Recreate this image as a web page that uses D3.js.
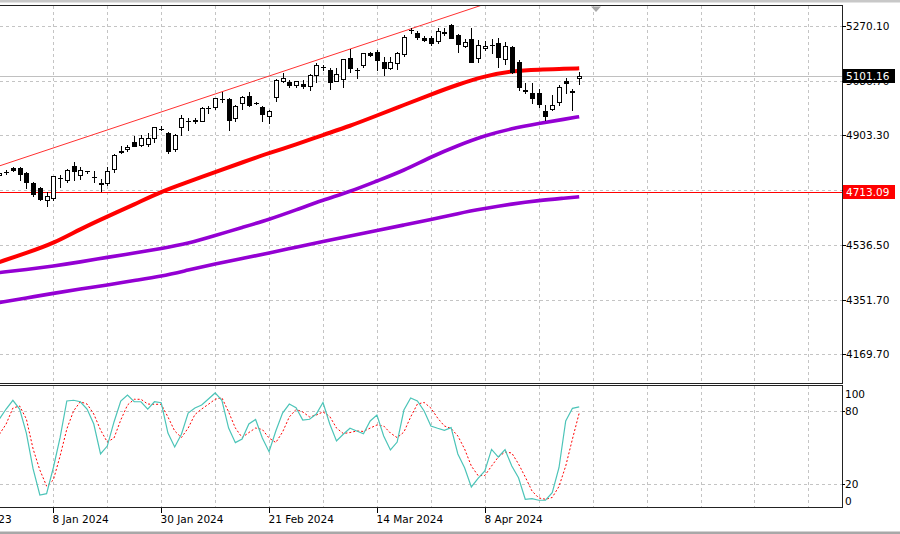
<!DOCTYPE html>
<html><head><meta charset="utf-8">
<script src="https://cdn.jsdelivr.net/npm/d3@7"></script>
<style>html,body{margin:0;padding:0;background:#fff;}svg{display:block;}</style>
</head><body>
<svg id="chart" width="900" height="534"></svg>
<script>
// ---------- DATA ----------
const dates = ["2023-12-27","2023-12-28","2023-12-29","2024-01-01","2024-01-02","2024-01-03","2024-01-04","2024-01-05",
"2024-01-08","2024-01-09","2024-01-10","2024-01-11","2024-01-12","2024-01-15","2024-01-16","2024-01-17","2024-01-18","2024-01-19",
"2024-01-22","2024-01-23","2024-01-24","2024-01-25","2024-01-26","2024-01-29","2024-01-30","2024-01-31","2024-02-01","2024-02-02",
"2024-02-05","2024-02-06","2024-02-07","2024-02-08","2024-02-09","2024-02-12","2024-02-13","2024-02-14","2024-02-15","2024-02-16",
"2024-02-19","2024-02-20","2024-02-21","2024-02-22","2024-02-23","2024-02-26","2024-02-27","2024-02-28","2024-02-29","2024-03-01",
"2024-03-04","2024-03-05","2024-03-06","2024-03-07","2024-03-08","2024-03-11","2024-03-12","2024-03-13","2024-03-14","2024-03-15",
"2024-03-18","2024-03-19","2024-03-20","2024-03-21","2024-03-22","2024-03-25","2024-03-26","2024-03-27","2024-03-28",
"2024-04-01","2024-04-02","2024-04-03","2024-04-04","2024-04-05","2024-04-08","2024-04-09","2024-04-10","2024-04-11","2024-04-12",
"2024-04-15","2024-04-16","2024-04-17","2024-04-18","2024-04-19","2024-04-22","2024-04-23","2024-04-24","2024-04-25","2024-04-26"];

const open = [4770,4779,4795,4795,4778,4744,4726,4686,
4692,4759,4753,4800,4770,4782,4765,4743,4744,4789,
4852,4856,4882,4871,4873,4893,4924,4912,4856,4932,
4952,4952,4952,4994,4999,5024,5024,4960,5013,5035,
5013,4997,4969,5031,5086,5083,5073,5076,5069,5106,
5133,5122,5087,5091,5162,5123,5139,5181,5184,5150,
5128,5145,5175,5256,5246,5229,5229,5221,5249,
5273,5240,5203,5225,5162,5195,5206,5212,5158,5201,
5150,5054,5044,5044,4986,4991,5014,5087,5048,5094];
const high = [4783,4787,4797,4797,4780,4747,4730,4714,
4768,4770,4791,4815,4797,4785,4785,4757,4797,4840,
4867,4870,4901,4904,4911,4931,4934,4914,4907,4972,
4960,4960,4997,5001,5028,5050,5028,5006,5034,5050,
5016,5002,4988,5092,5113,5089,5086,5089,5109,5145,
5139,5128,5128,5160,5192,5128,5180,5183,5190,5167,
5167,5184,5241,5262,5253,5236,5236,5262,5262,
5277,5243,5226,5262,5223,5221,5225,5229,5216,5203,
5156,5080,5080,5058,5005,5039,5072,5095,5058,5117];
const low = [4765,4773,4785,4753,4726,4700,4686,4666,
4686,4731,4746,4753,4757,4776,4748,4716,4738,4781,
4845,4850,4866,4867,4866,4880,4921,4843,4851,4904,
4921,4945,4950,4979,4991,5016,4921,4950,4991,5002,
5010,4952,4945,5020,5083,5066,5066,5062,5055,5083,
5123,5058,5084,5066,5117,5095,5134,5168,5122,5106,
5125,5125,5170,5248,5226,5219,5205,5212,5240,
5229,5184,5198,5148,5150,5190,5180,5131,5144,5111,
5055,5044,5011,4999,4955,4988,5004,5046,4988,5075];
const close = [4777,4781,4787,4773,4748,4706,4690,4701,
4766,4760,4787,4785,4787,4783,4764,4741,4785,4837,
4847,4865,4868,4893,4893,4930,4925,4851,4904,4960,
4953,4954,4994,4995,5027,5025,4955,5002,5033,5005,
5012,4975,4985,5089,5097,5072,5085,5069,5106,5139,
5134,5083,5108,5158,5128,5122,5178,5173,5156,5128,
5150,5181,5234,5257,5234,5223,5212,5253,5248,
5231,5210,5215,5150,5206,5203,5207,5167,5203,5117,
5064,5053,5027,5007,4968,5005,5066,5078,5053,5101.16];

// moving averages, read every 4th bar
const maDates = ["2023-12-27","2024-01-02","2024-01-08","2024-01-12","2024-01-18","2024-01-24","2024-01-30","2024-02-05",
"2024-02-09","2024-02-15","2024-02-21","2024-02-27","2024-03-04","2024-03-08","2024-03-14","2024-03-20","2024-03-26",
"2024-04-02","2024-04-08","2024-04-12","2024-04-18","2024-04-24","2024-04-26"];
const maRed = [4478.3,4508.5,4540.4,4589.0,4631.0,4671.2,4714.8,4746.7,4780.3,4812.2,4844.0,4872.5,4904.4,4934.6,4969.8,
5005.1,5040.3,5073.8,5102.3,5119.1,5124.2,5126.5,5128.2];
const maPurpleUpper = [4443.1,4453.2,4464.9,4478.3,4494.1,4508.5,4523.6,4540.4,4567.2,4594.1,4620.9,4652.8,4686.4,4714.2,
4750.1,4785.3,4831.0,4869.2,4902.7,4926.2,4943.0,4958.1,4965.8];
const maPurpleLower = [4342.5,4357.6,4373.3,4387.8,4401.2,4416.3,4430.3,4451.5,4471.6,4490.1,4508.5,4528.0,4547.1,4565.6,
4584.0,4602.5,4620.9,4641.1,4657.8,4673.0,4684.7,4693.0,4697.4];

// stochastic oscillator
const stochK = [73.3,81.5,88.7,81.5,61.8,32.3,10.9,12.0,
33.3,58.0,88.1,88.7,87.5,81.5,69.2,44.6,51.1,70.9,
88.1,93.0,87.5,87.5,81.5,87.5,86.7,61.8,50.3,60.8,
78.2,82.3,84.8,89.7,94.7,88.7,65.9,53.9,56.9,69.2,
72.9,57.7,46.5,63.5,78.2,85.6,82.6,72.5,73.1,77.4,
86.9,69.2,55.3,60.8,65.7,63.5,61.2,71.7,76.6,59.4,
47.9,54.4,80.7,90.6,88.1,79.9,67.6,65.7,64.0,66.2,
44.6,33.3,17.5,24.6,30.6,48.4,42.1,48.1,34.7,25.1,
7.4,7.9,6.6,6.6,12.8,33.3,71.7,82.1,83.2];
const stochD = [60.8,69.2,82.3,84.0,73.3,48.7,31.4,18.3,
23.2,42.9,65.1,79.9,87.5,85.6,77.4,64.3,54.4,57.7,
72.5,84.8,89.5,89.5,85.6,85.4,85.4,75.0,63.5,58.1,
65.9,77.0,81.5,85.4,89.5,90.8,79.1,65.9,58.1,62.2,
65.9,64.7,57.7,54.0,62.6,75.0,81.1,79.1,75.0,76.6,
79.1,75.4,65.9,61.4,62.2,63.5,63.1,65.9,68.4,67.6,
61.8,58.0,62.6,75.0,85.6,86.9,82.3,74.1,67.6,65.5,
59.4,48.7,34.7,26.9,26.9,34.7,42.1,46.2,45.4,36.4,
25.7,14.2,8.5,7.4,8.9,17.9,34.7,56.9,78.2];

const trendDates = ["2023-12-27","2024-04-08"];
const trendValues = [4800.7, 5343.4];
const bidPrice = 5101.16;
const levelPrice = 4713.09;

const yTicks = [5270.10, 5086.70, 4903.30, 4719.90, 4536.50, 4351.70, 4169.70];
const yTickLabels = ["5270.10", "5086.70", "4903.30", "", "4536.50", "4351.70", "4169.70"];
const stochTicks = [100, 80, 20, 0];
const stochGrid = [80, 20];
const xTickDates = ["2023-12-15","2024-01-08","2024-01-30","2024-02-21","2024-03-14","2024-04-08"];
const xTickLabels = ["15 Dec 2023","8 Jan 2024","30 Jan 2024","21 Feb 2024","14 Mar 2024","8 Apr 2024"];

// ---------- LAYOUT ----------
const W = 900, H = 534;
const plotRight = 842;
const mainTop = 5.5, mainBottom = 383.5;
const stTop = 385.5, stBottom = 507.5;
const FONT = "DejaVu Sans, sans-serif";

const svg = d3.select("#chart");

// slot index for a date (weekdays counted before the first bar)
function slot(d) {
  const k = dates.indexOf(d);
  if (k >= 0) return k;
  let t = new Date(d + "T00:00:00Z"), first = new Date(dates[0] + "T00:00:00Z"), n = 0;
  while (t < first) { const wd = t.getUTCDay(); if (wd !== 0 && wd !== 6) n++; t = new Date(t.getTime() + 86400000); }
  return -n;
}

const x = d3.scaleLinear().domain([0, dates.length - 1]).range([-0.6, 579.2]);
const y = d3.scaleLinear().domain([5270.10, 4169.70]).range([26, 354]);
const ys = d3.scaleLinear().domain([0, 100]).range([508.3, 386.5]);

svg.append("rect").attr("x",0).attr("y",0).attr("width",W).attr("height",2.5).attr("fill","#c8c8c8");
svg.append("rect").attr("x",0).attr("y",531.5).attr("width",W).attr("height",2.5).attr("fill","#a8a8a8");

const defs = svg.append("defs");
defs.append("clipPath").attr("id","clipMain").append("rect").attr("x",0).attr("y",mainTop).attr("width",plotRight).attr("height",mainBottom-mainTop);
defs.append("clipPath").attr("id","clipSt").append("rect").attr("x",0).attr("y",stTop).attr("width",plotRight).attr("height",stBottom-stTop);

const firstTick = slot(xTickDates[0]);
const gridIdx = [];
for (let k = firstTick; x(k) < plotRight - 2; k += 8) if (x(k) > 1) gridIdx.push(k);

const gMain = svg.append("g").attr("clip-path","url(#clipMain)");
const gSt = svg.append("g").attr("clip-path","url(#clipSt)");
const gridColor = "#c4c4c4";

gMain.selectAll("line.vg").data(gridIdx).enter().append("line")
  .attr("x1", d => Math.round(x(d)) + 0.5).attr("x2", d => Math.round(x(d)) + 0.5)
  .attr("y1", mainTop).attr("y2", mainBottom)
  .attr("stroke", gridColor).attr("stroke-dasharray","3,3").attr("shape-rendering","crispEdges");
gMain.selectAll("line.hg").data(yTicks).enter().append("line")
  .attr("x1", 0).attr("x2", plotRight)
  .attr("y1", d => Math.round(y(d)) + 0.5).attr("y2", d => Math.round(y(d)) + 0.5)
  .attr("stroke", gridColor).attr("stroke-dasharray","3,3").attr("shape-rendering","crispEdges");

gSt.selectAll("line.vg").data(gridIdx).enter().append("line")
  .attr("x1", d => Math.round(x(d)) + 0.5).attr("x2", d => Math.round(x(d)) + 0.5)
  .attr("y1", stTop).attr("y2", stBottom)
  .attr("stroke", gridColor).attr("stroke-dasharray","3,3").attr("shape-rendering","crispEdges");
gSt.selectAll("line.hg").data(stochGrid).enter().append("line")
  .attr("x1", 0).attr("x2", plotRight)
  .attr("y1", d => Math.round(ys(d)) + 0.5).attr("y2", d => Math.round(ys(d)) + 0.5)
  .attr("stroke", gridColor).attr("stroke-dasharray","3,3").attr("shape-rendering","crispEdges");

gMain.append("line").attr("x1",0).attr("x2",plotRight)
  .attr("y1", Math.round(y(bidPrice))+0.5).attr("y2", Math.round(y(bidPrice))+0.5)
  .attr("stroke","#c0c0c0").attr("shape-rendering","crispEdges");
gMain.append("line").attr("x1",0).attr("x2",plotRight)
  .attr("y1", Math.round(y(levelPrice))+0.5).attr("y2", Math.round(y(levelPrice))+0.5)
  .attr("stroke","#ff0000").attr("shape-rendering","crispEdges");

const maLine = d3.line().x((d,i) => x(slot(maDates[i]))).y(d => y(d)).curve(d3.curveBasis);
gMain.append("path").datum(maPurpleLower).attr("d", maLine).attr("fill","none").attr("stroke","#9400d3").attr("stroke-width",3.6);
gMain.append("path").datum(maPurpleUpper).attr("d", maLine).attr("fill","none").attr("stroke","#9400d3").attr("stroke-width",3.6);
gMain.append("path").datum(maRed).attr("d", maLine).attr("fill","none").attr("stroke","#ff0000").attr("stroke-width",4);

{
  const i0 = slot(trendDates[0]), i1 = slot(trendDates[1]);
  const slope = (trendValues[1]-trendValues[0])/(i1-i0);
  const iEnd = i1 + 10;
  gMain.append("line")
    .attr("x1", x(i0 - 2)).attr("y1", y(trendValues[0] - 2*slope))
    .attr("x2", x(iEnd)).attr("y2", y(trendValues[0] + (iEnd-i0)*slope))
    .attr("stroke","#ff3030").attr("stroke-width",1);
}

const candles = dates.map((d,i) => ({i, o:open[i], h:high[i], l:low[i], c:close[i]}));
const cg = gMain.append("g").attr("shape-rendering","crispEdges");
candles.forEach(c => {
  const cx = Math.round(x(c.i));
  cg.append("line").attr("x1", cx+0.5).attr("x2", cx+0.5)
    .attr("y1", Math.round(y(c.h))).attr("y2", Math.round(y(c.l))+1).attr("stroke","#000");
  const top = Math.round(y(Math.max(c.o,c.c))), bot = Math.round(y(Math.min(c.o,c.c)));
  if (bot - top < 1) {
    cg.append("line").attr("x1", cx-2).attr("x2", cx+3).attr("y1", top+0.5).attr("y2", top+0.5).attr("stroke","#000");
  } else {
    cg.append("rect").attr("x", cx-1.5).attr("y", top+0.5).attr("width", 4).attr("height", bot-top)
      .attr("fill", c.c >= c.o ? "#fff" : "#000").attr("stroke","#000");
  }
});

const stLine = d3.line().x((d,i) => x(i)).y(d => ys(d));
gSt.append("path").datum(stochD).attr("d", stLine).attr("fill","none").attr("stroke","#ff0000").attr("stroke-width",1).attr("stroke-dasharray","2,2");
gSt.append("path").datum(stochK).attr("d", stLine).attr("fill","none").attr("stroke","#4cc4b8").attr("stroke-width",1.2);

const frame = svg.append("g").attr("shape-rendering","crispEdges").attr("stroke","#222");
frame.append("line").attr("x1",0).attr("x2",plotRight+0.5).attr("y1",mainTop).attr("y2",mainTop);
frame.append("line").attr("x1",0).attr("x2",plotRight+0.5).attr("y1",mainBottom).attr("y2",mainBottom);
frame.append("line").attr("x1",plotRight+0.5).attr("x2",plotRight+0.5).attr("y1",mainTop).attr("y2",mainBottom);
frame.append("line").attr("x1",0).attr("x2",plotRight+0.5).attr("y1",stTop).attr("y2",stTop);
frame.append("line").attr("x1",0).attr("x2",plotRight+0.5).attr("y1",stBottom).attr("y2",stBottom);
frame.append("line").attr("x1",plotRight+0.5).attr("x2",plotRight+0.5).attr("y1",stTop).attr("y2",stBottom);

svg.append("path").attr("d","M591,6.5 L601,6.5 L596,12 Z").attr("fill","#a8a8a8");

const ax = svg.append("g").attr("font-family", FONT).attr("font-size", "10.5px").attr("fill","#000");
yTicks.forEach((v,k) => {
  const yy = Math.round(y(v)) + 0.5;
  svg.append("line").attr("x1",plotRight).attr("x2",plotRight+4).attr("y1",yy).attr("y2",yy).attr("stroke","#000").attr("shape-rendering","crispEdges");
  if (yTickLabels[k]) ax.append("text").attr("x", 846).attr("y", yy).attr("dy","0.36em").text(yTickLabels[k]);
});
function priceBox(v, bg) {
  const yy = y(v);
  svg.append("rect").attr("x", 843).attr("y", Math.round(yy) - 7).attr("width", 52).attr("height", 14).attr("fill", bg);
  svg.append("text").attr("x", 846).attr("y", Math.round(yy)+0.5).attr("dy","0.36em")
    .attr("font-family", FONT).attr("font-size","10.5px").attr("fill","#fff").text(v.toFixed(2));
}
priceBox(bidPrice, "#000");
priceBox(levelPrice, "#ff0000");

const stLabelY = {100: ys(100)+7.5, 80: ys(80), 20: ys(20), 0: ys(0)-7.5};
stochTicks.forEach(v => {
  ax.append("text").attr("x", 845).attr("y", stLabelY[v]).attr("dy","0.36em").text(v);
});
stochGrid.forEach(v => {
  const yy = Math.round(ys(v)) + 0.5;
  svg.append("line").attr("x1",plotRight).attr("x2",plotRight+3).attr("y1",yy).attr("y2",yy).attr("stroke","#000").attr("shape-rendering","crispEdges");
});

xTickDates.forEach((d,k) => {
  const xx = Math.round(x(slot(d))) + 0.5;
  svg.append("line").attr("x1",xx).attr("x2",xx).attr("y1",stBottom).attr("y2",stBottom+5).attr("stroke","#000").attr("shape-rendering","crispEdges");
  ax.append("text").attr("x", xx - 1).attr("y", 522.5).text(xTickLabels[k]);
});
</script>
</body></html>
